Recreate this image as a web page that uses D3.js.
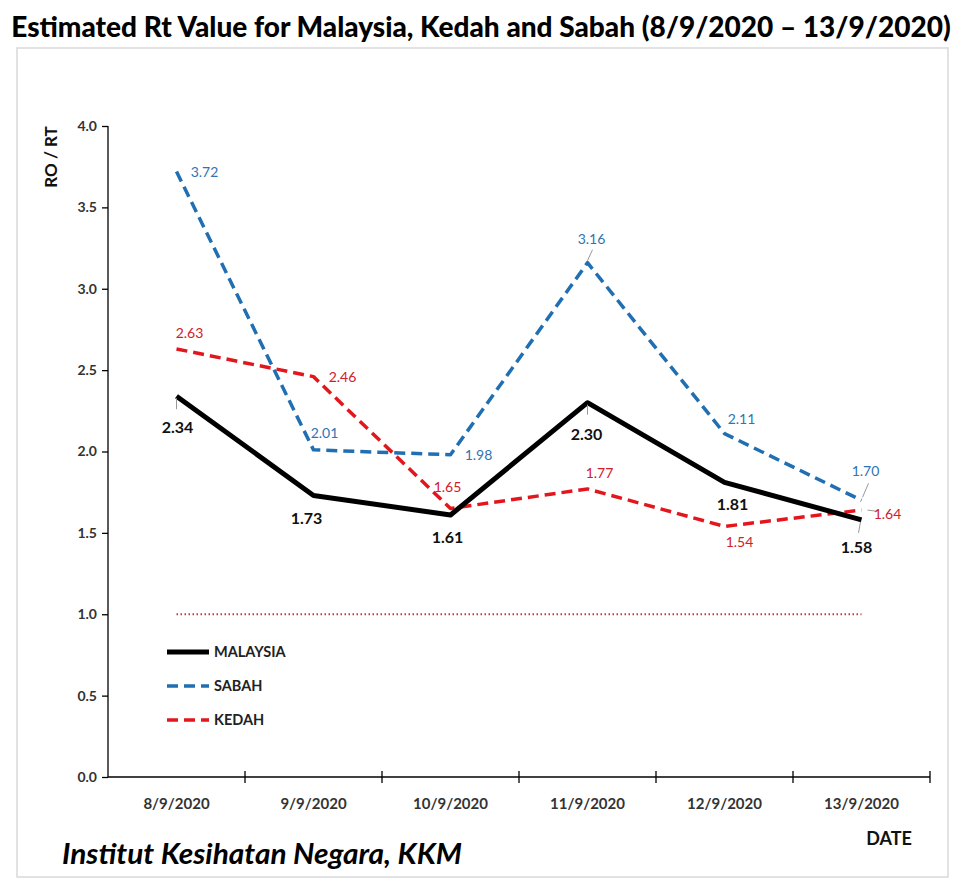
<!DOCTYPE html>
<html>
<head>
<meta charset="utf-8">
<script src="https://cdn.jsdelivr.net/npm/d3@7"></script>
<style>
  body { margin: 0; background: #fff; }
  text { font-family: Lato, "Open Sans", sans-serif; }
</style>
</head>
<body>
<svg width="963" height="887"></svg>
<script>
// Chart data
var dates = ['8/9/2020', '9/9/2020', '10/9/2020', '11/9/2020', '12/9/2020', '13/9/2020'];
var malaysia = [2.34, 1.73, 1.61, 2.30, 1.81, 1.58];
var sabah = [3.72, 2.01, 1.98, 3.16, 2.11, 1.70];
var kedah = [2.63, 2.46, 1.65, 1.77, 1.54, 1.64];
var yTicks = [0, 0.5, 1.0, 1.5, 2.0, 2.5, 3.0, 3.5, 4.0];
var threshold = 1.0;

// series styles and label offsets (dx, dy from the point)
var series = [
    { name: 'MALAYSIA', values: malaysia, color: '#000', width: 5, dash: null,
      labelColor: '#111', labelSize: 16, labelWeight: 'bold',
      offsets: [[1, 31], [-7, 23], [-3, 22], [-1, 32], [8, 22], [-5, 28]] },
    { name: 'SABAH', values: sabah, color: '#1f6fb2', width: 3.5, dash: '11,6',
      labelColor: '#2e74b5', labelSize: 14, labelWeight: 'normal',
      offsets: [[28, 1], [11, -17], [28, 0], [4, -24], [17, -14], [4, -29]] },
    { name: 'KEDAH', values: kedah, color: '#e3161d', width: 3.5, dash: '11,6',
      labelColor: '#d0202a', labelSize: 14, labelWeight: 'normal',
      offsets: [[13, -16], [29, 0], [-3, -21], [12, -16], [15, 16], [26, 4]] }
];

// leader lines: [series index, point index, dx1, dy1, dx2, dy2]
var leaders = [[0, 0, 0, 2, 0, 13], [0, 3, 0, 2, 0, 12], [0, 5, -1, 2, -3, 13],
               [1, 3, 0, -2, 5, -13], [1, 5, 1, -3, 7, -17], [2, 5, 6, 0, 14, 1]];

var svg = d3.select('svg');

// outer frame
svg.append('rect')
    .attr('x', 17).attr('y', 48)
    .attr('width', 931).attr('height', 829)
    .style('fill', 'none')
    .style('stroke', '#d9d9d9')
    .style('stroke-width', 1.5);

// title
svg.append('text')
    .attr('x', 481).attr('y', 37)
    .attr('text-anchor', 'middle')
    .style('font-size', '28px')
    .style('font-weight', '900')
    .style('fill', '#000')
    .text('Estimated Rt Value for Malaysia, Kedah and Sabah (8/9/2020 \u2013 13/9/2020)');

var plotLeft = 108, plotRight = 930, plotTop = 126, plotBottom = 777;

var x = d3.scaleBand().domain(dates).range([plotLeft, plotRight]);
var y = d3.scaleLinear().domain([0, 4]).range([plotBottom, plotTop]);
var cx = function(d) { return x(d) + x.bandwidth() / 2; };

// y axis
var yAxis = svg.append('g')
    .attr('transform', 'translate(' + plotLeft + ',0)')
    .call(d3.axisLeft(y).tickValues(yTicks).tickFormat(d3.format('.1f')).tickSize(6).tickPadding(5));
yAxis.selectAll('path, line').style('stroke', '#000').style('stroke-width', 1.3);
yAxis.select('.domain').attr('d', 'M0,' + plotTop + 'V' + plotBottom);
yAxis.selectAll('text')
    .style('font-size', '14px').style('font-weight', 'bold').style('fill', '#333')
    .style('font-family', 'Lato, sans-serif');

// x axis, ticks at band boundaries crossing the axis
var xAxisG = svg.append('g');
xAxisG.append('line')
    .attr('x1', plotLeft).attr('x2', plotRight)
    .attr('y1', plotBottom).attr('y2', plotBottom)
    .style('stroke', '#000').style('stroke-width', 1.3);
var bounds = dates.map(function(d) { return x(d) + x.bandwidth(); });
xAxisG.selectAll(null)
    .data(bounds)
    .enter().append('line')
    .attr('x1', function(d) { return d; }).attr('x2', function(d) { return d; })
    .attr('y1', plotBottom - 6).attr('y2', plotBottom + 6)
    .style('stroke', '#000').style('stroke-width', 1.3);
xAxisG.selectAll(null)
    .data(dates)
    .enter().append('text')
    .attr('x', function(d) { return cx(d); })
    .attr('y', 809)
    .attr('text-anchor', 'middle')
    .style('font-size', '15px').style('font-weight', 'bold').style('fill', '#333')
    .text(function(d) { return d; });

// axis titles
svg.append('text')
    .attr('transform', 'translate(57,157) rotate(-90)')
    .attr('text-anchor', 'middle')
    .style('font-size', '17px').style('font-weight', 'bold').style('fill', '#111')
    .text('RO / RT');

svg.append('text')
    .attr('x', 889).attr('y', 845)
    .attr('text-anchor', 'middle')
    .style('font-size', '18px').style('font-weight', 'bold').style('fill', '#111')
    .text('DATE');

// threshold line at Rt = 1
svg.append('line')
    .attr('x1', cx(dates[0])).attr('x2', cx(dates[dates.length - 1]))
    .attr('y1', y(threshold)).attr('y2', y(threshold))
    .style('stroke', '#b04440')
    .style('stroke-width', 2)
    .style('stroke-dasharray', '1.5,2.5');

// lines
var line = d3.line()
    .x(function(d, i) { return cx(dates[i]); })
    .y(function(d) { return y(d); });

// draw kedah first, then sabah, malaysia on top
[series[2], series[1], series[0]].forEach(function(s) {
    svg.append('path')
        .datum(s.values)
        .attr('d', line)
        .style('fill', 'none')
        .style('stroke', s.color)
        .style('stroke-width', s.width)
        .style('stroke-dasharray', s.dash)
        .style('stroke-linejoin', 'round');
});

// thin grey leader lines from some points to their labels
svg.selectAll(null)
    .data(leaders)
    .enter().append('line')
    .attr('x1', function(d) { return cx(dates[d[1]]) + d[2]; })
    .attr('y1', function(d) { return y(series[d[0]].values[d[1]]) + d[3]; })
    .attr('x2', function(d) { return cx(dates[d[1]]) + d[4]; })
    .attr('y2', function(d) { return y(series[d[0]].values[d[1]]) + d[5]; })
    .style('stroke', '#999')
    .style('stroke-width', 1);

// data labels
series.forEach(function(s) {
    svg.selectAll(null)
        .data(s.values)
        .enter().append('text')
        .attr('x', function(d, i) { return cx(dates[i]) + s.offsets[i][0]; })
        .attr('y', function(d, i) { return y(d) + s.offsets[i][1]; })
        .attr('text-anchor', 'middle')
        .attr('dy', '0.35em')
        .style('font-size', s.labelSize + 'px')
        .style('font-weight', s.labelWeight)
        .style('fill', s.labelColor)
        .text(function(d) { return d.toFixed(2); });
});

// legend
var legend = svg.append('g').attr('transform', 'translate(167,652)');
series.forEach(function(s, i) {
    var g = legend.append('g').attr('transform', 'translate(0,' + (i * 34) + ')');
    g.append('line')
        .attr('x1', 0).attr('x2', 42)
        .style('stroke', s.color)
        .style('stroke-width', s.width)
        .style('stroke-dasharray', s.dash);
    g.append('text')
        .attr('x', 47).attr('dy', '0.35em')
        .style('font-size', '14.5px').style('font-weight', 'bold').style('fill', '#222')
        .text(s.name);
});

// source note
svg.append('text')
    .attr('x', 62).attr('y', 864)
    .attr('textLength', 400)
    .attr('lengthAdjust', 'spacingAndGlyphs')
    .style('font-size', '29px').style('font-weight', 'bold').style('font-style', 'italic')
    .style('fill', '#000')
    .text('Institut Kesihatan Negara, KKM');
</script>
</body>
</html>
